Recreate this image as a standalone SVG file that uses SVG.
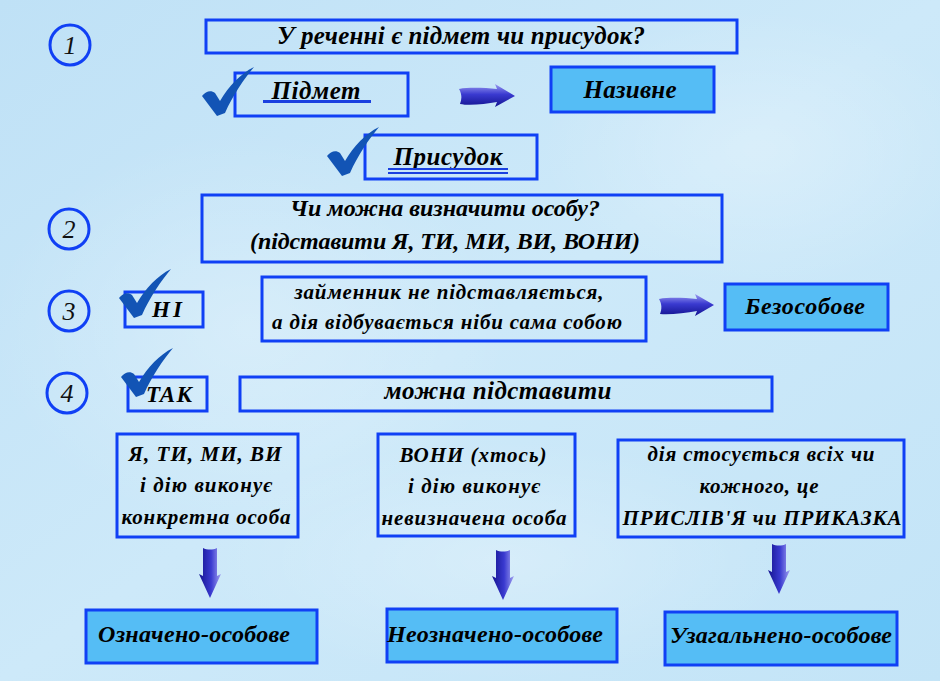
<svg xmlns="http://www.w3.org/2000/svg" width="940" height="681" viewBox="0 0 940 681">
<defs>
  <linearGradient id="bg" x1="0" y1="0" x2="1" y2="1">
    <stop offset="0" stop-color="#bfe1f6"/>
    <stop offset="0.5" stop-color="#cde9f9"/>
    <stop offset="1" stop-color="#c3e4f7"/>
  </linearGradient>
  <radialGradient id="glow" cx="0.5" cy="0.5" r="0.5">
    <stop offset="0" stop-color="#ffffff" stop-opacity="0.25"/>
    <stop offset="1" stop-color="#ffffff" stop-opacity="0"/>
  </radialGradient>
  <linearGradient id="arrH" x1="0" y1="0" x2="0" y2="1">
    <stop offset="0" stop-color="#9a9af0"/>
    <stop offset="0.45" stop-color="#3a3ad0"/>
    <stop offset="1" stop-color="#141490"/>
  </linearGradient>
  <linearGradient id="arrV" x1="0" y1="0" x2="1" y2="0">
    <stop offset="0" stop-color="#141490"/>
    <stop offset="0.55" stop-color="#3a3ad0"/>
    <stop offset="1" stop-color="#a0a0f0"/>
  </linearGradient>
  <path id="check" d="M0,29 C4,24 9,23 13,26 L18,34 C27,19 38,7 52,0 C42,12 31,28 23,46 L15,49 Z"/>
</defs>
<style>
  .box{fill:none;stroke:#1040f5;stroke-width:3}
  .fbox{fill:#55bdf5;stroke:#1040f5;stroke-width:3}
  .t{font-family:"Liberation Serif","Times New Roman",serif;font-weight:bold;font-style:italic;fill:#000;text-anchor:middle}
  .num{font-family:"Liberation Serif","Times New Roman",serif;font-style:italic;font-size:26px;fill:#111;text-anchor:middle}
  .circ{fill:none;stroke:#1040f5;stroke-width:3}
  .chk{fill:#1254b5}
  .ul{stroke:#1a40e0;fill:none}
</style>
<rect width="940" height="681" fill="url(#bg)"/>
<ellipse cx="250" cy="330" rx="260" ry="200" fill="url(#glow)"/>
<ellipse cx="760" cy="150" rx="220" ry="140" fill="url(#glow)"/>
<ellipse cx="500" cy="560" rx="300" ry="120" fill="url(#glow)"/>

<g id="num1"><circle class="circ" cx="70" cy="45" r="20"/><text class="num" x="70" y="54">1</text></g>
<g id="num2"><circle class="circ" cx="69" cy="229" r="20"/><text class="num" x="69" y="238">2</text></g>
<g id="num3"><circle class="circ" cx="69" cy="311" r="20"/><text class="num" x="69" y="320">3</text></g>
<g id="num4"><circle class="circ" cx="67" cy="393" r="20"/><text class="num" x="67" y="402">4</text></g>

<g id="q1"><rect class="box" x="206" y="20" width="531" height="33"/>
<text class="t" x="461" y="44" font-size="25" textLength="368" lengthAdjust="spacing">У реченні є підмет чи присудок?</text></g>

<g id="pidmet"><rect class="box" x="235" y="73" width="173" height="43"/>
<text class="t" x="316" y="99" font-size="25" textLength="89" lengthAdjust="spacing">Підмет</text>
<line class="ul" x1="263" y1="101.5" x2="371" y2="101.5" stroke-width="3"/></g>

<g id="nazyvne"><rect class="fbox" x="551" y="67" width="163" height="45"/>
<text class="t" x="630" y="98" font-size="25" textLength="93" lengthAdjust="spacing">Називне</text></g>

<g id="prysudok"><rect class="box" x="365" y="135" width="172" height="44"/>
<text class="t" x="448" y="165" font-size="25" textLength="109" lengthAdjust="spacing">Присудок</text>
<line class="ul" x1="388" y1="169" x2="508" y2="169" stroke-width="2"/>
<line class="ul" x1="388" y1="173" x2="508" y2="173" stroke-width="2"/></g>

<g id="q2"><rect class="box" x="202" y="195" width="520" height="67"/>
<text class="t" x="445" y="216" font-size="24" textLength="310" lengthAdjust="spacing">Чи можна визначити особу?</text>
<text class="t" x="445" y="249" font-size="24" textLength="390" lengthAdjust="spacing">(підставити Я, ТИ, МИ, ВИ, ВОНИ)</text></g>

<g id="ni"><rect class="box" x="125" y="292" width="78" height="35"/>
<text class="t" x="167" y="317" font-size="23" textLength="30" lengthAdjust="spacing">НІ</text></g>

<g id="zaimennyk"><rect class="box" x="262" y="277" width="384" height="64"/>
<text class="t" x="449" y="299" font-size="21" textLength="309" lengthAdjust="spacing">займенник не підставляється,</text>
<text class="t" x="447" y="329" font-size="21" textLength="350" lengthAdjust="spacing">а дія відбувається ніби сама собою</text></g>

<g id="bezosobove"><rect class="fbox" x="725" y="284" width="163" height="46"/>
<text class="t" x="805" y="314" font-size="24" textLength="120" lengthAdjust="spacing">Безособове</text></g>

<g id="tak"><rect class="box" x="128" y="377" width="79" height="34"/>
<text class="t" x="169" y="402" font-size="23" textLength="46" lengthAdjust="spacing">ТАК</text></g>

<g id="mozhna"><rect class="box" x="240" y="377" width="532" height="34"/>
<text class="t" x="498" y="399" font-size="25" textLength="227" lengthAdjust="spacing">можна підставити</text></g>

<g id="boxA"><rect class="box" x="117" y="434" width="181" height="103"/>
<text class="t" x="205" y="461" font-size="21" textLength="153" lengthAdjust="spacing">Я, ТИ, МИ, ВИ</text>
<text class="t" x="206" y="492" font-size="21" textLength="132" lengthAdjust="spacing">і дію виконує</text>
<text class="t" x="206" y="524" font-size="21" textLength="169" lengthAdjust="spacing">конкретна особа</text></g>

<g id="boxB"><rect class="box" x="378" y="434" width="197" height="102"/>
<text class="t" x="473" y="462" font-size="21" textLength="147" lengthAdjust="spacing">ВОНИ (хтось)</text>
<text class="t" x="474" y="493" font-size="21" textLength="132" lengthAdjust="spacing">і дію виконує</text>
<text class="t" x="474" y="525" font-size="21" textLength="185" lengthAdjust="spacing">невизначена особа</text></g>

<g id="boxC"><rect class="box" x="618" y="440" width="286" height="97"/>
<text class="t" x="761" y="461" font-size="21" textLength="227" lengthAdjust="spacing">дія стосується всіх чи</text>
<text class="t" x="759" y="493" font-size="21" textLength="119" lengthAdjust="spacing">кожного, це</text>
<text class="t" x="762" y="525" font-size="21" textLength="279" lengthAdjust="spacing">ПРИСЛІВ'Я чи ПРИКАЗКА</text></g>

<g id="oznacheno"><rect class="fbox" x="86" y="610" width="231" height="53"/>
<text class="t" x="194" y="642" font-size="24" textLength="192" lengthAdjust="spacing">Означено-особове</text></g>

<g id="neoznacheno"><rect class="fbox" x="387" y="609" width="230" height="53"/>
<text class="t" x="495" y="642" font-size="24" textLength="216" lengthAdjust="spacing">Неозначено-особове</text></g>

<g id="uzahalneno"><rect class="fbox" x="665" y="612" width="232" height="53"/>
<text class="t" x="781" y="643" font-size="24" textLength="222" lengthAdjust="spacing">Узагальнено-особове</text></g>

<g id="checks">
  <use href="#check" class="chk" transform="translate(202,67)"/>
  <use href="#check" class="chk" transform="translate(327,127)"/>
  <use href="#check" class="chk" transform="translate(119,269)"/>
  <use href="#check" class="chk" transform="translate(121,348)"/>
</g>

<g id="connectors">
  <path fill="url(#arrH)" d="M459,89 C470,87 485,88 497,89 L495,84 L515,96 L495,107 L497,102 C485,104 470,106 460,104 C462,99 462,94 459,89 Z"/>
  <path fill="url(#arrH)" d="M659,299 C670,297 685,298 697,299 L695,294 L714,305 L695,316 L697,311 C685,313 670,315 660,314 C662,309 662,304 659,299 Z"/>
  <path fill="url(#arrV)" d="M203,548 C207,550 213,550 217,548 L217,576 L221,574 L210,598 L199,574 L203,576 Z"/>
  <path fill="url(#arrV)" d="M496,550 C500,552 506,552 510,550 L510,578 L514,576 L503,600 L492,576 L496,578 Z"/>
  <path fill="url(#arrV)" d="M772,544 C776,546 782,546 786,544 L786,572 L790,570 L779,594 L768,570 L772,572 Z"/>
</g>
</svg>
